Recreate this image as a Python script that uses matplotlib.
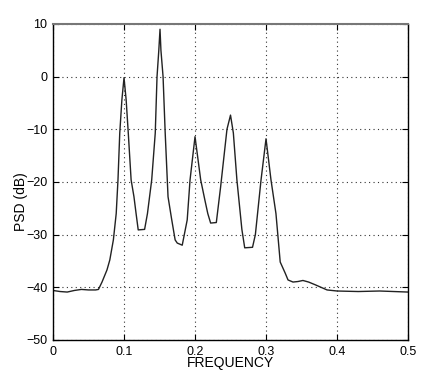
import matplotlib
matplotlib.use("Agg")
import matplotlib.pyplot as plt

# values
freq = [0.0, 0.01, 0.02, 0.03, 0.04, 0.05, 0.06, 0.064, 0.069, 0.076, 0.08, 0.085,
        0.089, 0.0915, 0.094, 0.097, 0.1, 0.103, 0.106, 0.11, 0.114, 0.117, 0.12,
        0.129, 0.133, 0.139, 0.144, 0.1465, 0.149, 0.1507, 0.152, 0.155, 0.158,
        0.162, 0.167, 0.172, 0.175, 0.182, 0.189, 0.193, 0.2, 0.208, 0.214, 0.218,
        0.222, 0.23, 0.236, 0.245, 0.25, 0.254, 0.259, 0.266, 0.27, 0.281, 0.285,
        0.293, 0.3, 0.307, 0.314, 0.32, 0.327, 0.331, 0.338, 0.345, 0.352, 0.36,
        0.369, 0.386, 0.4, 0.43, 0.46, 0.48, 0.5]
psd_db = [-40.6, -40.8, -40.9, -40.6, -40.4, -40.5, -40.5, -40.4, -39, -36.7, -34.8, -31,
          -26, -19.6, -10.7, -4.4, -0.2, -4.4, -10.7, -19.6, -22.8, -26, -29.1,
          -29.0, -26, -19.6, -10.7, 0, 5, 9, 5, 0, -10.7,
          -22.8, -27, -31, -31.6, -32, -27.2, -19.6, -11.4, -19.6, -23.5, -26,
          -27.8, -27.7, -21, -10, -7.3, -10.7, -19.6, -29, -32.5, -32.4, -30,
          -19.6, -11.8, -19.6, -26, -35.2, -37.3, -38.6, -39, -38.9, -38.7, -39,
          -39.5, -40.5, -40.7, -40.8, -40.7, -40.8, -40.9]

xticks = [0, 0.1, 0.2, 0.3, 0.4, 0.5]
xticklabels = ["0", "0.1", "0.2", "0.3", "0.4", "0.5"]
yticks = [-50, -40, -30, -20, -10, 0, 10]

plt.rcParams['font.family'] = ['Liberation Sans', 'DejaVu Sans']

fig = plt.figure(figsize=(4.36, 3.82), dpi=100)
ax = fig.add_axes([0.1216, 0.11, 0.8142, 0.8272])

ax.plot(freq, psd_db, color='#222222', lw=1.0)

ax.set_xlim(0, 0.5)
ax.set_ylim(-50, 10)
ax.set_xticks(xticks)
ax.set_xticklabels(xticklabels)
ax.set_yticks(yticks)
ax.set_yticklabels([str(t).replace('-', '\u2212') for t in yticks])

ax.grid(True, color='#333333', linestyle=(0, (1, 3)), linewidth=0.8)
ax.tick_params(direction='in', length=4, width=0.8, top=True, right=True,
               labelsize=9, pad=4, colors='black')
for side in ['left', 'right', 'bottom']:
    ax.spines[side].set_color('black')
    ax.spines[side].set_linewidth(1.0)
ax.spines['top'].set_color('#777777')
ax.spines['top'].set_linewidth(1.5)

ax.set_xlabel('FREQUENCY', fontsize=10, labelpad=-1)
ax.set_ylabel('PSD (dB)', fontsize=10)
ax.yaxis.set_label_coords(-0.07, 0.437)

fig.savefig("out.png", dpi=100)
